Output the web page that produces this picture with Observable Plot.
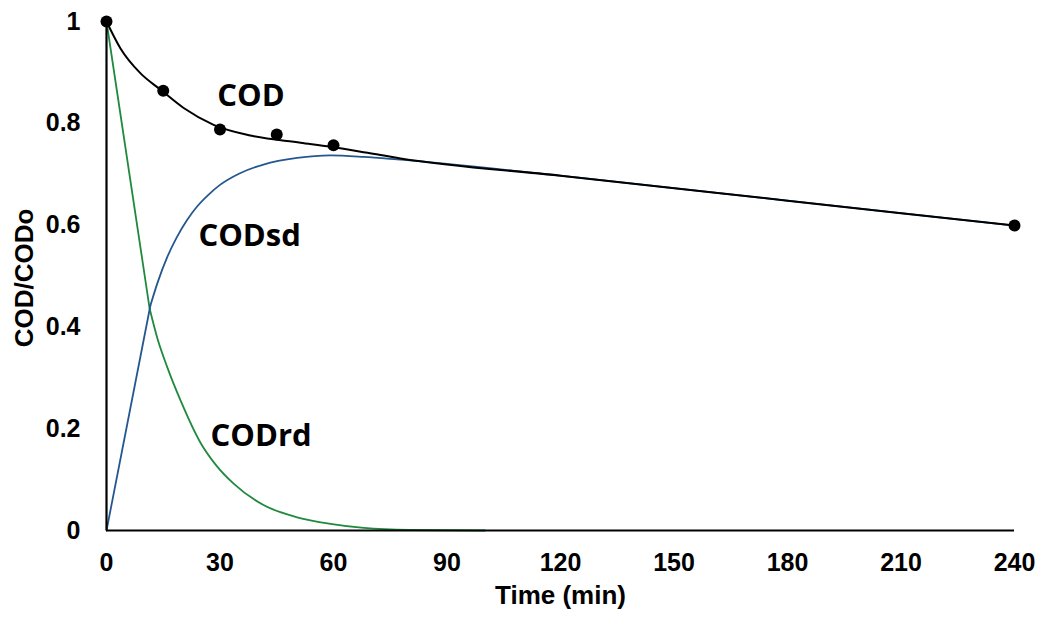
<!DOCTYPE html>
<html>
<head>
<meta charset="utf-8">
<script src="https://cdn.jsdelivr.net/npm/d3@7"></script>
<script src="https://cdn.jsdelivr.net/npm/@observablehq/plot@0.6"></script>
<style>
  html, body { margin: 0; padding: 0; background: #fff; }
  #chart svg { display: block; }
</style>
</head>
<body>
<div id="chart"></div>
<script>
// Measured COD/CODo values
const obsTime = [0, 15, 30, 45, 60, 240];
const obsCOD  = [1, 0.864, 0.788, 0.778, 0.757, 0.599];

// Fitted total COD curve
const codTime = [0, 3.7, 9, 14.3, 20.4, 28.3, 38, 51.3, 59.2, 69, 77.7, 120, 180, 240];
const codFit  = [1, 0.947, 0.898, 0.866, 0.83, 0.797, 0.776, 0.762, 0.754, 0.742, 0.731, 0.697, 0.648, 0.599];

// Slowly degradable fraction (CODsd); first sample interval is drawn straight
const sdTime = [0, 11.6, 13.5, 16.1, 18.5, 21.3, 24, 27, 30, 35, 41.5, 50.4, 59.2, 68, 76.8, 120, 180, 240];
const sdFit  = [0, 0.442, 0.487, 0.538, 0.575, 0.61, 0.637, 0.66, 0.679, 0.701, 0.719, 0.732, 0.737, 0.734, 0.729, 0.697, 0.648, 0.599];

// Readily degradable fraction (CODrd); first sample interval is drawn straight
const rdTime = [0, 11.4, 13.5, 16.1, 19.6, 24.8, 29, 33.6, 41.5, 50.4, 59.2, 68, 80, 100];
const rdFit  = [1, 0.436, 0.376, 0.32, 0.255, 0.173, 0.128, 0.092, 0.05, 0.026, 0.013, 0.005, 0.001, 0];

// Curve labels
const labelText = ["COD", "CODsd", "CODrd"];
const labelTime = [29.3, 24.3, 27.5];
const labelY    = [0.853, 0.579, 0.186];

const xTicks = [0, 30, 60, 90, 120, 150, 180, 210, 240];
const yTicks = [0, 0.2, 0.4, 0.6, 0.8, 1];

const zipXY = (xs, ys) => xs.map((x, i) => ({x, y: ys[i]}));
const obs = zipXY(obsTime, obsCOD);
const cod = zipXY(codTime, codFit);
const sd = zipXY(sdTime, sdFit);
const rd = zipXY(rdTime, rdFit);
const labels = labelText.map((t, i) => ({t, x: labelTime[i], y: labelY[i]}));

// straight opening segment + smooth remainder
const splitLine = (pts, stroke, width) => [
  Plot.line(pts.slice(0, 2), {x: "x", y: "y", stroke, strokeWidth: width}),
  Plot.line(pts.slice(1), {x: "x", y: "y", stroke, strokeWidth: width, curve: "monotone-x"})
];

const chart = Plot.plot({
  width: 1041,
  height: 617,
  marginLeft: 106,
  marginRight: 27,
  marginTop: 21,
  marginBottom: 87,
  style: {fontFamily: "'Liberation Sans', Arial, sans-serif", background: "#fff", overflow: "visible"},
  x: {domain: [0, 240]},
  y: {domain: [0, 1]},
  marks: [
    Plot.axisX({ticks: xTicks, tickSize: 0, tickPadding: 23, fontSize: 25, fontWeight: "bold", label: null, tickFormat: d => String(d)}),
    Plot.axisY({ticks: yTicks, tickSize: 0, tickPadding: 26, fontSize: 25, fontWeight: "bold", label: null, tickFormat: d => String(d)}),
    Plot.text(["Time (min)"], {frameAnchor: "bottom", dy: 73, fontSize: 26, fontWeight: "bold", fill: "#000"}),
    Plot.text(["COD/CODo"], {frameAnchor: "left", textAnchor: "middle", rotate: -90, dx: -82, dy: 2, fontSize: 26, fontWeight: "bold", fill: "#000"}),
    ...splitLine(rd, "#1f8a3e", 1.8),
    ...splitLine(sd, "#24578f", 1.8),
    Plot.line(cod, {x: "x", y: "y", stroke: "#000", strokeWidth: 2, curve: "monotone-x"}),
    Plot.ruleX([0], {stroke: "#000", strokeWidth: 2.2}),
    Plot.ruleY([0], {stroke: "#000", strokeWidth: 2.2}),
    Plot.dot(obs, {x: "x", y: "y", r: 6, fill: "#000", stroke: "none"}),
    Plot.text(labels, {x: "x", y: "y", text: "t", textAnchor: "start", lineAnchor: "middle", fontSize: 31, fontWeight: "bold", fontFamily: "'Open Sans', sans-serif", fill: "#000"})
  ]
});
document.getElementById("chart").appendChild(chart);
</script>
</body>
</html>
